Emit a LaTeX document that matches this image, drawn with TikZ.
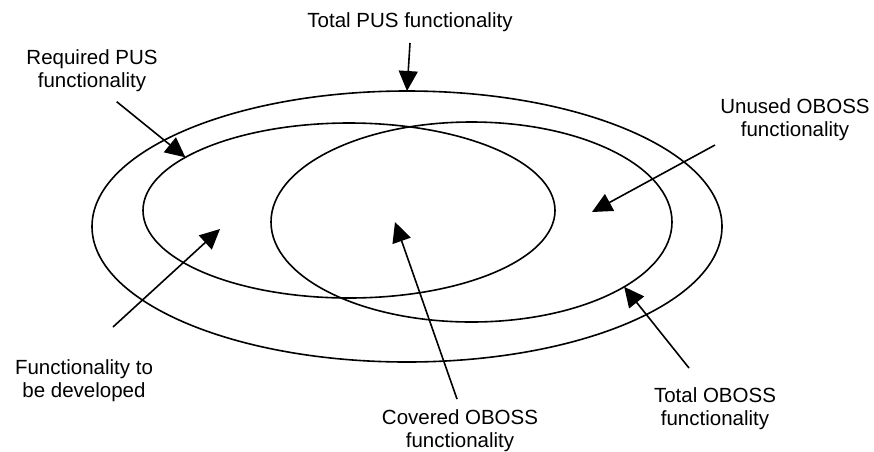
\documentclass[tikz,border=0pt]{standalone}
\usepackage{fontspec}
\setmainfont{Liberation Sans}
\usetikzlibrary{arrows.meta,shapes.geometric}

\begin{document}
\begin{tikzpicture}[
  x=1pt, y=-1pt,
  >={Triangle[length=20pt,width=19pt]},
  set/.style={draw,ellipse,line width=1.6pt,inner sep=0pt,outer sep=0pt},
  lab/.style={font=\fontsize{20.5pt}{23.5pt}\selectfont,align=center,inner sep=0pt},
  pointer/.style={->,line width=1.6pt},
]
\useasboundingbox (0,0) rectangle (874,451);

% ---------- the three sets ----------
\node[set,minimum width=630pt,minimum height=271pt] (pus) at (407,226.5) {};
\node[set,minimum width=412pt,minimum height=175pt] (req) at (349,210.5) {};
\node[set,minimum width=401pt,minimum height=200pt] (oboss) at (471.5,222) {};

% ---------- labels ----------
\node[lab,anchor=base]  (ltotal)  at (410,27)  {Total PUS functionality};
\node[lab,anchor=north] (lreq)    at (92,49)   {Required PUS\\functionality};
\node[lab,anchor=north] (lunused) at (795,98)  {Unused OBOSS\\functionality};
\node[lab,anchor=north] (ldev)    at (84,359)  {Functionality to\\be developed};
\node[lab,anchor=north] (lcov)    at (460,409) {Covered OBOSS\\functionality};
\node[lab,anchor=north] (ltob)    at (715,387) {Total OBOSS\\functionality};

% ---------- pointer ends ----------
\coordinate (reqfrom)    at (116.7,101.7);
\coordinate (unusedfrom) at (715,145);
\coordinate (unusedtip)  at (592,212);
\coordinate (devfrom)    at (113,327);
\coordinate (devtip)     at (220,229);
\coordinate (covfrom)    at (457,399);
\coordinate (covtip)     at (395,222);
\coordinate (tobfrom)    at (689,368);

% ---------- pointers ----------
\draw[pointer] ([yshift=-16pt]ltotal.base) -- (pus.north);
\draw[pointer] (reqfrom) -- (req.162);
\draw[pointer] (unusedfrom) -- (unusedtip);
\draw[pointer] (devfrom) -- (devtip);
\draw[pointer] (covfrom) -- (covtip);
\draw[pointer] (tobfrom) -- (oboss.-23);

\end{tikzpicture}
\end{document}
